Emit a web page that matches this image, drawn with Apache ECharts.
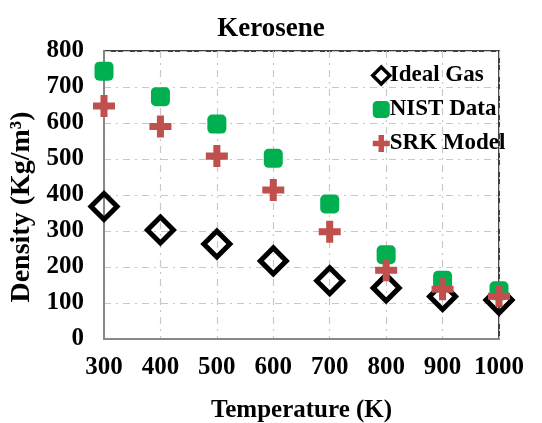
<!DOCTYPE html>
<html><head><meta charset="utf-8">
<script src="https://cdn.jsdelivr.net/npm/echarts@6/dist/echarts.min.js"></script>
<style>html,body{margin:0;padding:0;background:#fff}#c{width:542px;height:423px}</style>
</head><body><div id="c"></div>
<script>
const temperatures = [300, 400, 500, 600, 700, 800, 900, 1000];
const idealGas = [368, 303, 264, 217, 162, 142, 118, 108];
const nistData = [744, 673, 597, 502, 375, 234, 163, 134];
const srkModel = [647, 590, 508, 414, 298, 191, 138, 119];
const yTicks = [0, 100, 200, 300, 400, 500, 600, 700, 800];
const xTicks = [300, 400, 500, 600, 700, 800, 900, 1000];

const font = 'Liberation Serif';
const pair = arr => temperatures.map((t, i) => [t, arr[i]]);
const plusPath = 'path://M3.4,0H6.6V3.4H10V6.6H6.6V10H3.4V6.6H0V3.4H3.4Z';

const chart = echarts.init(document.getElementById('c'), null, {renderer: 'canvas'});
chart.setOption({
  animation: false,
  backgroundColor: '#fff',
  title: {
    text: 'Kerosene', left: 'center', top: 11,
    textStyle: {fontFamily: font, fontWeight: 'bold', fontSize: 27, color: '#000'}
  },
  graphic: [{
    type: 'text', x: 22, y: 207, rotation: Math.PI / 2,
    style: {text: 'Density (Kg/m³)', fontFamily: font, fontWeight: 'bold', fontSize: 28, fill: '#000',
      align: 'center', verticalAlign: 'middle'}
  }],
  grid: {left: 104, right: 43, top: 51, bottom: 84, show: true, borderColor: '#000', borderWidth: 1.5,
    backgroundColor: 'transparent', containLabel: false, outerBoundsMode: 'none'},
  legend: {
    orient: 'vertical', left: 366, top: 59, itemGap: 11,
    itemWidth: 17, itemHeight: 17,
    textStyle: {fontFamily: font, fontWeight: 'bold', fontSize: 23, color: '#000', padding: [0, 0, 0, -5]},
    data: [
      {name: 'Ideal Gas', icon: 'diamond', itemStyle: {color: '#fff', borderColor: '#000', borderWidth: 3.5, opacity: 1}},
      {name: 'NIST Data', icon: 'roundRect', itemStyle: {opacity: 1}},
      {name: 'SRK Model', icon: plusPath, itemStyle: {opacity: 1}}
    ]
  },
  xAxis: {
    type: 'value', min: 300, max: 1000, interval: 100,
    name: 'Temperature (K)', nameLocation: 'middle', nameGap: 59,
    nameTextStyle: {fontFamily: font, fontWeight: 'bold', fontSize: 25, color: '#000'},
    axisLine: {lineStyle: {color: '#888', width: 2}},
    axisTick: {show: false},
    axisLabel: {fontFamily: font, fontWeight: 'bold', fontSize: 25, color: '#000', margin: 16,
      formatter: v => xTicks.includes(v) ? String(v) : ''},
    splitLine: {show: true, lineStyle: {color: '#c8c8c8', width: 1.2, type: [7, 5, 2, 5]}}
  },
  yAxis: {
    type: 'value', min: 0, max: 800, interval: 100,
    axisLine: {show: true, lineStyle: {color: '#888', width: 2}},
    axisTick: {show: false},
    axisLabel: {fontFamily: font, fontWeight: 'bold', fontSize: 25, color: '#000', margin: 20,
      formatter: v => yTicks.includes(v) ? String(v) : ''},
    splitLine: {show: true, lineStyle: {color: '#c8c8c8', width: 1.2, type: [7, 5, 2, 5]}}
  },
  series: [
    {name: 'Ideal Gas', type: 'scatter', data: pair(idealGas), symbol: 'diamond', symbolSize: 26,
      itemStyle: {color: 'rgba(255,255,255,0)', borderColor: '#000', borderWidth: 5, opacity: 1}, z: 2},
    {name: 'NIST Data', type: 'scatter', data: pair(nistData), symbol: 'roundRect', symbolSize: 19,
      itemStyle: {color: '#00b050', opacity: 1}, z: 3},
    {name: 'SRK Model', type: 'scatter', data: pair(srkModel), symbol: plusPath, symbolSize: 22,
      itemStyle: {color: '#c0504d', opacity: 1}, z: 4}
  ]
});
</script></body></html>
